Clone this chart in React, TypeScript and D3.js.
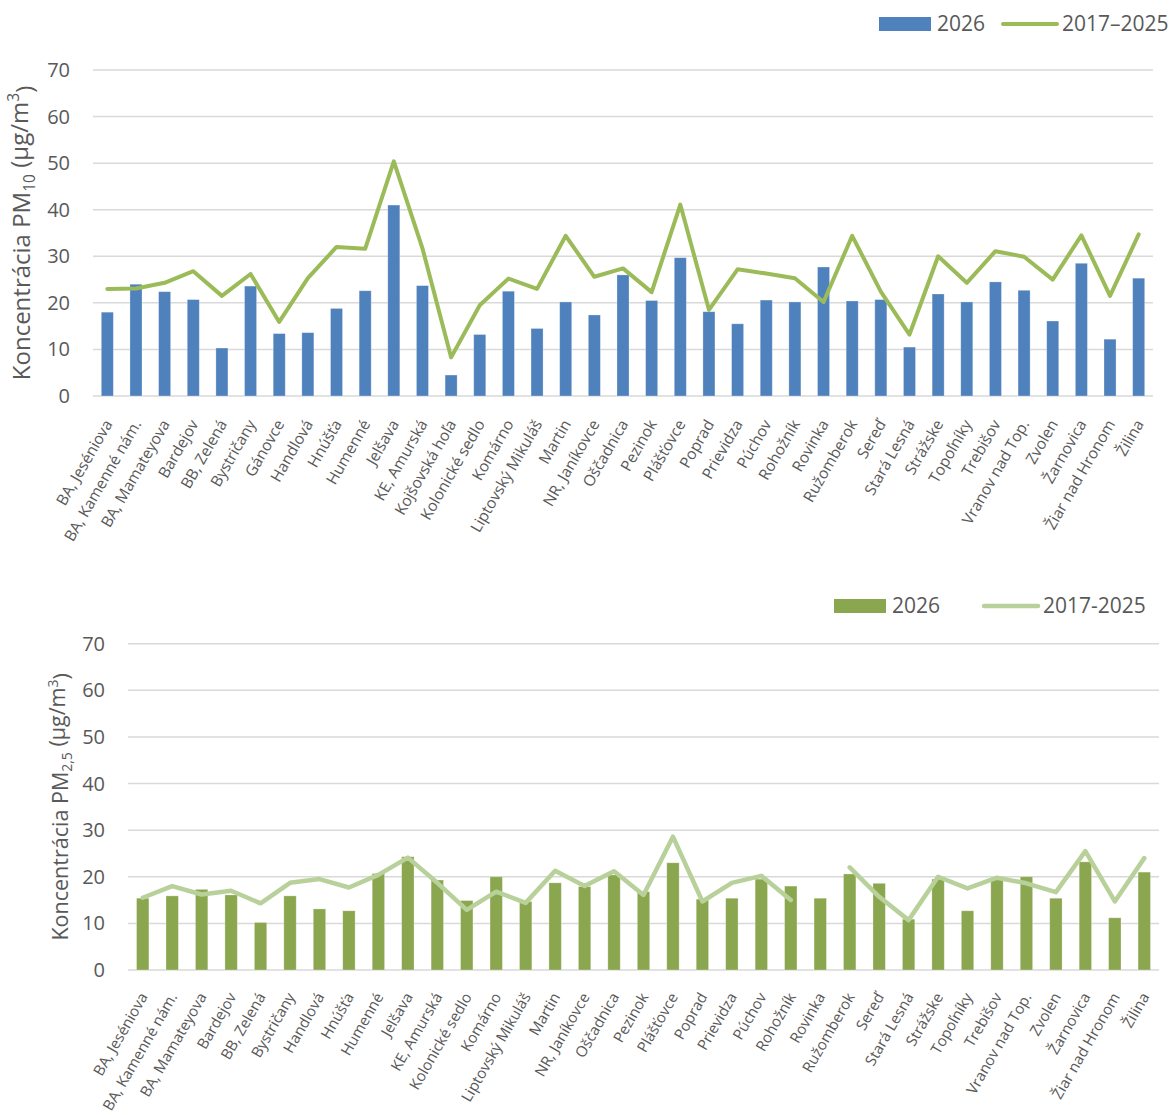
import React from "react";
import * as d3 from "d3";

const topCats = ["BA, Jeséniova","BA, Kamenné nám.","BA, Mamateyova","Bardejov","BB, Zelená","Bystričany","Gánovce","Handlová","Hnúšťa","Humenné","Jelšava","KE, Amurská","Kojšovská hoľa","Kolonické sedlo","Komárno","Liptovský Mikuláš","Martin","NR, Janíkovce","Oščadnica","Pezinok","Plášťovce","Poprad","Prievidza","Púchov","Rohožník","Rovinka","Ružomberok","Sereď","Stará Lesná","Strážske","Topoľníky","Trebišov","Vranov nad Top.","Zvolen","Žarnovica","Žiar nad Hronom","Žilina"];
const topBars = [18.0,24.0,22.4,20.7,10.3,23.6,13.4,13.6,18.8,22.6,41.0,23.7,4.5,13.2,22.5,14.5,20.2,17.4,26.0,20.5,29.7,18.1,15.5,20.6,20.2,27.7,20.4,20.7,10.5,21.9,20.2,24.5,22.7,16.1,28.5,12.2,25.3];
const topLine = [23.0,23.1,24.3,26.8,21.5,26.2,15.9,25.3,32.0,31.6,50.4,31.7,8.3,19.5,25.2,23.0,34.4,25.6,27.4,22.3,41.1,18.5,27.2,26.3,25.3,20.2,34.4,22.4,13.2,30.0,24.3,31.1,29.9,25.0,34.5,21.5,34.7];

const botCats = ["BA, Jeséniova","BA, Kamenné nám.","BA, Mamateyova","Bardejov","BB, Zelená","Bystričany","Handlová","Hnúšťa","Humenné","Jelšava","KE, Amurská","Kolonické sedlo","Komárno","Liptovský Mikuláš","Martin","NR, Janíkovce","Oščadnica","Pezinok","Plášťovce","Poprad","Prievidza","Púchov","Rohožník","Rovinka","Ružomberok","Sereď","Stará Lesná","Strážske","Topoľníky","Trebišov","Vranov nad Top.","Zvolen","Žarnovica","Žiar nad Hronom","Žilina"];
const botBars = [15.4,15.9,17.3,16.1,10.2,15.9,13.1,12.7,20.7,24.3,19.3,14.9,20.0,14.7,18.7,17.9,20.4,16.8,23.0,15.2,15.4,19.5,18.0,15.4,20.6,18.6,10.9,19.5,12.7,19.5,20.0,15.4,23.2,11.2,21.0];
const botLine: (number | null)[] = [15.5,18.0,16.2,17.0,14.3,18.7,19.5,17.7,20.4,24.1,18.7,12.9,16.8,14.4,21.3,18.0,21.2,16.1,28.6,14.7,18.7,20.2,15.0,null,22.0,15.7,10.7,20.0,17.5,19.8,18.6,16.7,25.5,14.7,24.0];

const yTicks = [0,10,20,30,40,50,60,70];
const legendBar = "2026";
const legendLineTop = "2017–2025";
const legendLineBot = "2017-2025";

const FONT = "'Open Sans', sans-serif";
const TXT = "#595959";

type PanelProps = {
  cats: string[]; bars: number[]; line: (number | null)[];
  left: number; right: number; top: number; bottom: number;
  barColor: string; lineColor: string; lineWidth: number;
  tickRight: number; titleX: number; sub: string;
  legX: number; legBase: number; lineLabel: string; legLineX: number;
  labelFont: number; titleFont: number; labelDx: number; labelDy: number;
};

function Panel(p: PanelProps) {
  const x = d3.scaleBand<string>().domain(p.cats).range([p.left, p.right]).paddingInner(0).paddingOuter(0);
  const y = d3.scaleLinear().domain([0, 70]).range([p.bottom, p.top]);
  const bw = x.bandwidth();
  const barW = bw * 0.42;
  const pts = p.cats.map((c, i) => ({ c, v: p.line[i] }));
  const lineGen = d3.line<{ c: string; v: number | null }>()
    .defined(d => d.v !== null)
    .x(d => (x(d.c) as number) + bw / 2)
    .y(d => y(d.v as number));
  const midY = (p.top + p.bottom) / 2;
  return (
    <g>
      {yTicks.map(t => (
        <g key={t}>
          <line x1={p.left} x2={p.right} y1={y(t)} y2={y(t)} stroke="#D9D9D9" strokeWidth={1.5} />
          <text x={p.tickRight} y={y(t)} dy="0.35em" textAnchor="end" fontSize={20} fill={TXT} fontFamily={FONT}>{t}</text>
        </g>
      ))}
      {p.cats.map((c, i) => (
        <rect key={c} x={(x(c) as number) + (bw - barW) / 2} y={y(p.bars[i])} width={barW} height={y(0) - y(p.bars[i])}
          fill={p.barColor} stroke="rgba(255,255,255,0.35)" strokeWidth={0.8} />
      ))}
      <path d={lineGen(pts) || ""} fill="none" stroke={p.lineColor} strokeWidth={p.lineWidth} strokeLinejoin="round" strokeLinecap="round" />
      {p.cats.map(c => {
        const cx = (x(c) as number) + bw / 2 + p.labelDx;
        const cy = p.bottom + p.labelDy;
        return (
          <text key={c} transform={`translate(${cx},${cy}) rotate(-60)`} textAnchor="end" dy="0.35em"
            fontSize={p.labelFont} fill={TXT} fontFamily={FONT}>{c}</text>
        );
      })}
      <text transform={`translate(${p.titleX},${midY}) rotate(-90)`} textAnchor="middle" dy="0.35em"
        fontSize={p.titleFont} fill={TXT} fontFamily={FONT}>
        Koncentrácia PM<tspan fontSize={p.titleFont * 0.65} dy="0.3em">{p.sub}</tspan>
        <tspan dy="-0.3em"> (µg/m</tspan><tspan fontSize={p.titleFont * 0.65} dy="-0.55em">3</tspan><tspan dy="0.55em">)</tspan>
      </text>
      <rect x={p.legX} y={p.legBase - 14} width={52} height={14} fill={p.barColor} />
      <text x={p.legX + 58} y={p.legBase} fontSize={21} fill={TXT} fontFamily={FONT}>{legendBar}</text>
      <line x1={p.legLineX} x2={p.legLineX + 54} y1={p.legBase - 7} y2={p.legBase - 7} stroke={p.lineColor} strokeWidth={p.lineWidth} strokeLinecap="round" />
      <text x={p.legLineX + 59} y={p.legBase} fontSize={21} fill={TXT} fontFamily={FONT}>{p.lineLabel}</text>
    </g>
  );
}

export default function App() {
  return (
    <svg width={1171} height={1115} style={{ position: "absolute", left: 0, top: 0, background: "#fff" }}>
      <Panel cats={topCats} bars={topBars} line={topLine} left={93} right={1153} top={70} bottom={396}
        barColor="#4F81BD" lineColor="#9BBB59" lineWidth={4} tickRight={70} titleX={22} sub="10"
        legX={879} legBase={31} lineLabel={legendLineTop} legLineX={1003} labelFont={15.5} titleFont={24}
        labelDx={1} labelDy={25} />
      <Panel cats={botCats} bars={botBars} line={botLine} left={128} right={1159} top={643.7} bottom={970}
        barColor="#8AA64F" lineColor="#B8D19A" lineWidth={4.5} tickRight={105} titleX={60} sub="2,5"
        legX={834} legBase={613} lineLabel={legendLineBot} legLineX={984} labelFont={15} titleFont={21.5}
        labelDx={1} labelDy={24} />
    </svg>
  );
}
